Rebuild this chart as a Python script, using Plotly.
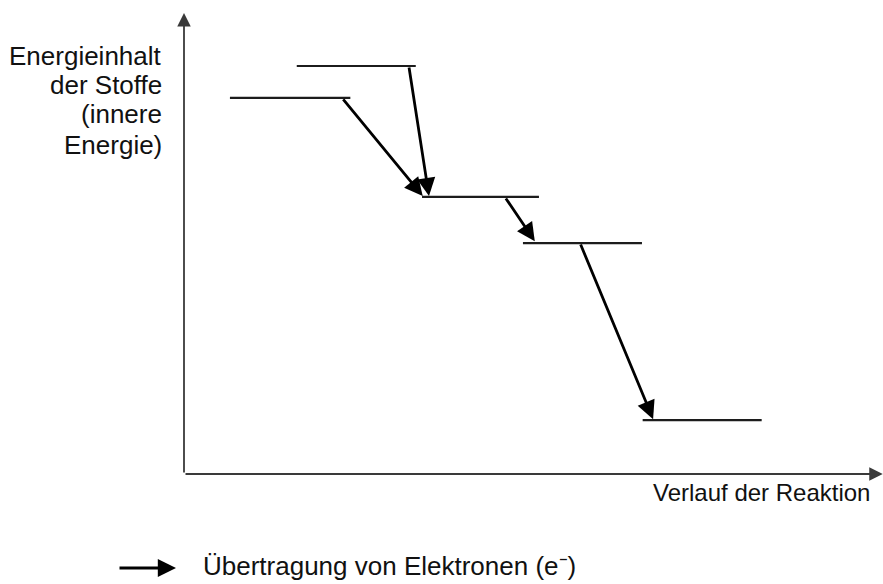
import plotly.graph_objects as go

# ---- data (reaction progress units, energy units) ----
level_x_start = [0.66, 1.62, 3.42, 4.87, 6.59]
level_x_end = [2.39, 3.33, 5.10, 6.58, 8.30]
level_energy = [8.16, 8.85, 6.01, 5.01, 1.17]

arrow_x_from = [2.27, 3.23, 4.61, 5.69]
arrow_y_from = [8.16, 8.85, 6.01, 5.01]
arrow_x_to = [3.43, 3.52, 5.04, 6.74]
arrow_y_to = [6.03, 6.03, 5.05, 1.19]

y_label_lines = ["Energieinhalt", "der Stoffe", "(innere", "Energie)"]
x_label = "Verlauf der Reaktion"
legend_label = "Übertragung von Elektronen (e⁻)"

W, H = 883, 584
ML, MR, MT, MB = 184, 3, 13, 110
PW, PH = W - ML - MR, H - MT - MB


def px(xp):
    return (xp - ML) / PW


def py(yp):
    return (H - MB - yp) / PH


FONT = "Liberation Sans, Arial, sans-serif"

xs, ys = [], []
for a, b, e in zip(level_x_start, level_x_end, level_energy):
    xs += [a, b, None]
    ys += [e, e, None]

fig = go.Figure()
fig.add_trace(go.Scatter(x=xs, y=ys, mode="lines",
                         line=dict(color="#1c1c1c", width=2.2),
                         hoverinfo="skip", showlegend=False))

ann = []
for x0, y0, x1, y1 in zip(arrow_x_from, arrow_y_from, arrow_x_to, arrow_y_to):
    ann.append(dict(x=x1, y=y1, ax=x0, ay=y0, xref="x", yref="y",
                    axref="x", ayref="y", showarrow=True, text="",
                    arrowhead=2, arrowsize=1.3, arrowwidth=2.8,
                    arrowcolor="#000000", standoff=0))

# axes with arrowheads
ann.append(dict(x=0, y=10, ax=0, ay=0, xref="x", yref="y", axref="x", ayref="y",
                showarrow=True, text="", arrowhead=2, arrowsize=1.5,
                arrowwidth=1.8, arrowcolor="#3a3a3a"))
ann.append(dict(x=10.04, y=0, ax=0, ay=0, xref="x", yref="y", axref="x", ayref="y",
                showarrow=True, text="", arrowhead=2, arrowsize=1.5,
                arrowwidth=1.8, arrowcolor="#3a3a3a"))

# y label lines
centers = [56, 85, 114, 145]
for t, c in zip(y_label_lines, centers):
    ann.append(dict(x=px(164), y=py(c), xref="paper", yref="paper", text=t,
                    showarrow=False, xanchor="right", yanchor="middle",
                    font=dict(family=FONT, size=26, color="#111111")))

ann.append(dict(x=px(872), y=py(492), xref="paper", yref="paper", text=x_label,
                showarrow=False, xanchor="right", yanchor="middle",
                font=dict(family=FONT, size=24, color="#111111")))

# legend
ann.append(dict(x=px(176), y=py(568), xref="paper", yref="paper", text="",
                showarrow=True, ax=-58, ay=0, arrowhead=2, arrowsize=1.3,
                arrowwidth=2.8, arrowcolor="#000000", standoff=0))
ann.append(dict(x=px(201), y=py(566), xref="paper", yref="paper", text=legend_label,
                showarrow=False, xanchor="left", yanchor="middle",
                font=dict(family=FONT, size=26, color="#111111")))

fig.update_layout(
    width=W, height=H,
    margin=dict(l=ML, r=MR, t=MT, b=MB),
    paper_bgcolor="white", plot_bgcolor="white",
    xaxis=dict(range=[0, 10], visible=False, fixedrange=True),
    yaxis=dict(range=[0, 10], visible=False, fixedrange=True),
    annotations=ann,
    showlegend=False,
)

fig.write_html("out.html", config={"displayModeBar": False},
               post_script="document.body.style.margin='0px';document.body.style.overflow='hidden';")
